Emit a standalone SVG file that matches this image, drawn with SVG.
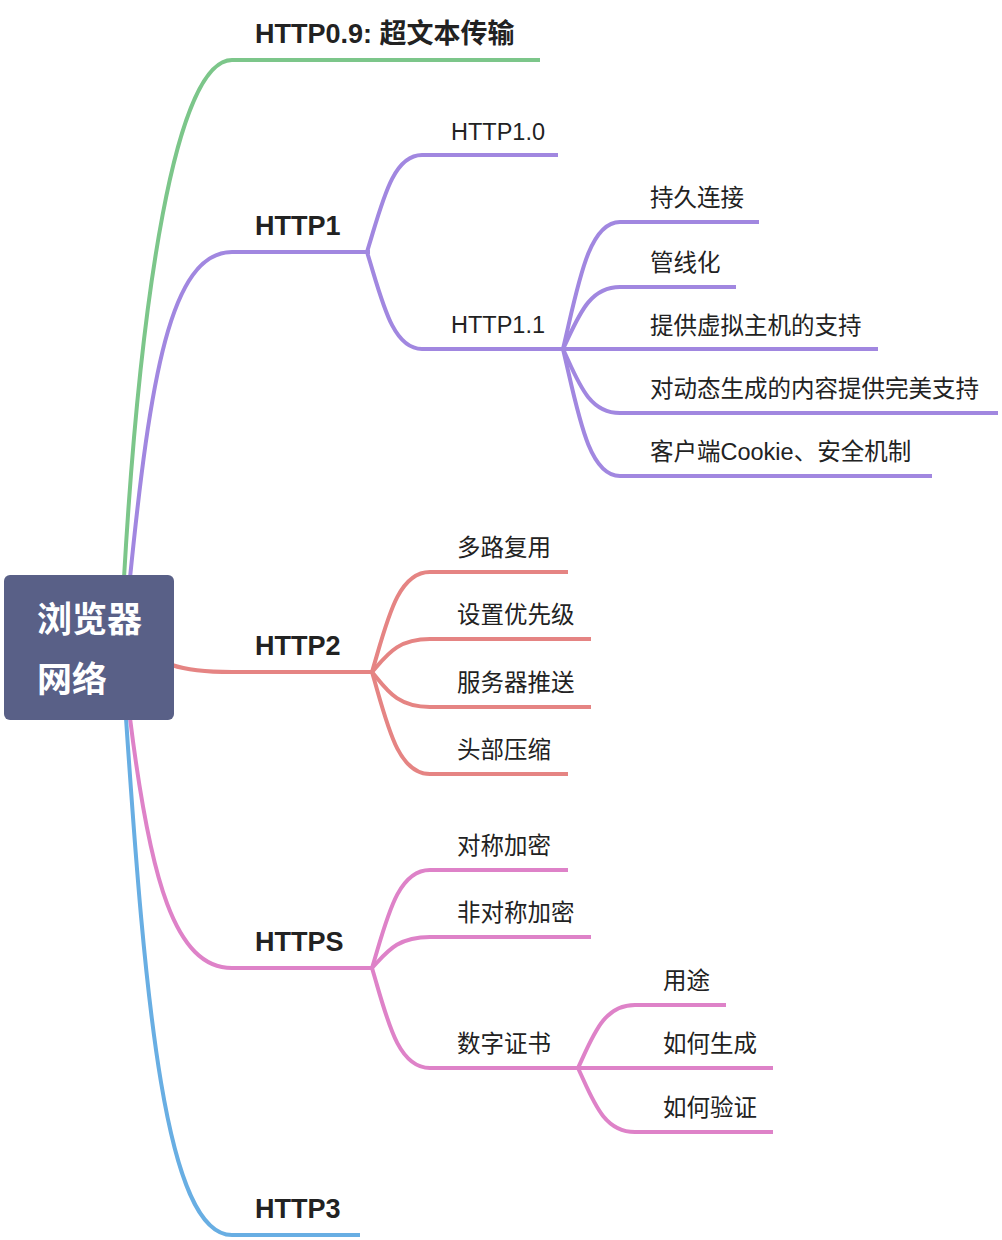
<svg xmlns="http://www.w3.org/2000/svg" width="1002" height="1240" viewBox="0 0 1002 1240">
<style>
.ln{fill:none;stroke-width:4;stroke-linecap:butt;stroke-linejoin:round}
.g{stroke:#7cc68a}.p{stroke:#a187e0}.r{stroke:#e58483}.k{stroke:#de82c8}.b{stroke:#68aee3}
.t1{font-family:"Liberation Sans","Noto Sans CJK SC",sans-serif;font-size:27px;font-weight:bold;fill:#222}
.t2{font-family:"Liberation Sans","Noto Sans CJK SC",sans-serif;font-size:23.5px;fill:#222}
.rt{font-family:"Liberation Sans","Noto Sans CJK SC",sans-serif;font-size:35px;font-weight:bold;fill:#fff}
</style>
<rect width="1002" height="1240" fill="#fff"/>
<g id="connectors">
<path class="ln g" d="M124,578 C140,300 175,60 232,60 L540,60"/>
<path class="ln p" d="M130,578 C150,380 170,252 232,252 L370,252"/>
<path class="ln r" d="M172,665 Q192,672 232,672 L374,672"/>
<path class="ln k" d="M130,718 C150,880 175,968 232,968 L374,968"/>
<path class="ln b" d="M126,718 C145,1000 165,1235 232,1235 L360,1235"/>
<path class="ln p" d="M367,252 C382,204 392,155 422,155 L558,155"/>
<path class="ln p" d="M367,252 C382,300 392,349 422,349 L565,349"/>
<path class="ln p" d="M563,349 C578,286 588,222 620,222 L759,222"/>
<path class="ln p" d="M563,349 C578,318 588,287 620,287 L736,287"/>
<path class="ln p" d="M563,349 L878,349"/>
<path class="ln p" d="M563,349 C578,381 588,413 620,413 L998,413"/>
<path class="ln p" d="M563,349 C578,412 588,476 620,476 L932,476"/>
<path class="ln r" d="M372,672 C387,622 397,572 430,572 L568,572"/>
<path class="ln r" d="M372,672 C387,655 397,639 430,639 L591,639"/>
<path class="ln r" d="M372,672 C387,690 397,707 430,707 L591,707"/>
<path class="ln r" d="M372,672 C387,723 397,774 430,774 L568,774"/>
<path class="ln k" d="M372,968 C387,919 397,870 430,870 L568,870"/>
<path class="ln k" d="M372,968 C387,952 397,937 430,937 L591,937"/>
<path class="ln k" d="M372,968 C387,1018 397,1068 430,1068 L580,1068"/>
<path class="ln k" d="M578,1068 C593,1036 603,1005 635,1005 L726,1005"/>
<path class="ln k" d="M578,1068 L773,1068"/>
<path class="ln k" d="M578,1068 C593,1100 603,1132 635,1132 L773,1132"/>
</g>
<g id="root"><rect x="4" y="575" width="170" height="145" rx="6" fill="#596087"/><text class="rt" x="37" y="632">浏览器</text><text class="rt" x="37" y="692">网络</text></g>
<g id="n-http09"><text class="t1" x="255" y="43">HTTP0.9: 超文本传输</text></g>
<g id="n-http1"><text class="t1" x="255" y="235">HTTP1</text></g>
<g id="n-http10"><text class="t2" x="451" y="140">HTTP1.0</text></g>
<g id="n-http11"><text class="t2" x="451" y="333">HTTP1.1</text></g>
<g id="n-keepalive"><text class="t2" x="650" y="206">持久连接</text></g>
<g id="n-pipeline"><text class="t2" x="650" y="271">管线化</text></g>
<g id="n-vhost"><text class="t2" x="650" y="334">提供虚拟主机的支持</text></g>
<g id="n-dynamic"><text class="t2" x="650" y="397">对动态生成的内容提供完美支持</text></g>
<g id="n-cookie"><text class="t2" x="650" y="460">客户端Cookie、安全机制</text></g>
<g id="n-http2"><text class="t1" x="255" y="655">HTTP2</text></g>
<g id="n-mux"><text class="t2" x="457" y="556">多路复用</text></g>
<g id="n-priority"><text class="t2" x="457" y="623">设置优先级</text></g>
<g id="n-push"><text class="t2" x="457" y="691">服务器推送</text></g>
<g id="n-hpack"><text class="t2" x="457" y="758">头部压缩</text></g>
<g id="n-https"><text class="t1" x="255" y="951">HTTPS</text></g>
<g id="n-sym"><text class="t2" x="457" y="854">对称加密</text></g>
<g id="n-asym"><text class="t2" x="457" y="921">非对称加密</text></g>
<g id="n-cert"><text class="t2" x="457" y="1052">数字证书</text></g>
<g id="n-use"><text class="t2" x="663" y="989">用途</text></g>
<g id="n-gen"><text class="t2" x="663" y="1052">如何生成</text></g>
<g id="n-verify"><text class="t2" x="663" y="1116">如何验证</text></g>
<g id="n-http3"><text class="t1" x="255" y="1218">HTTP3</text></g>
</svg>
